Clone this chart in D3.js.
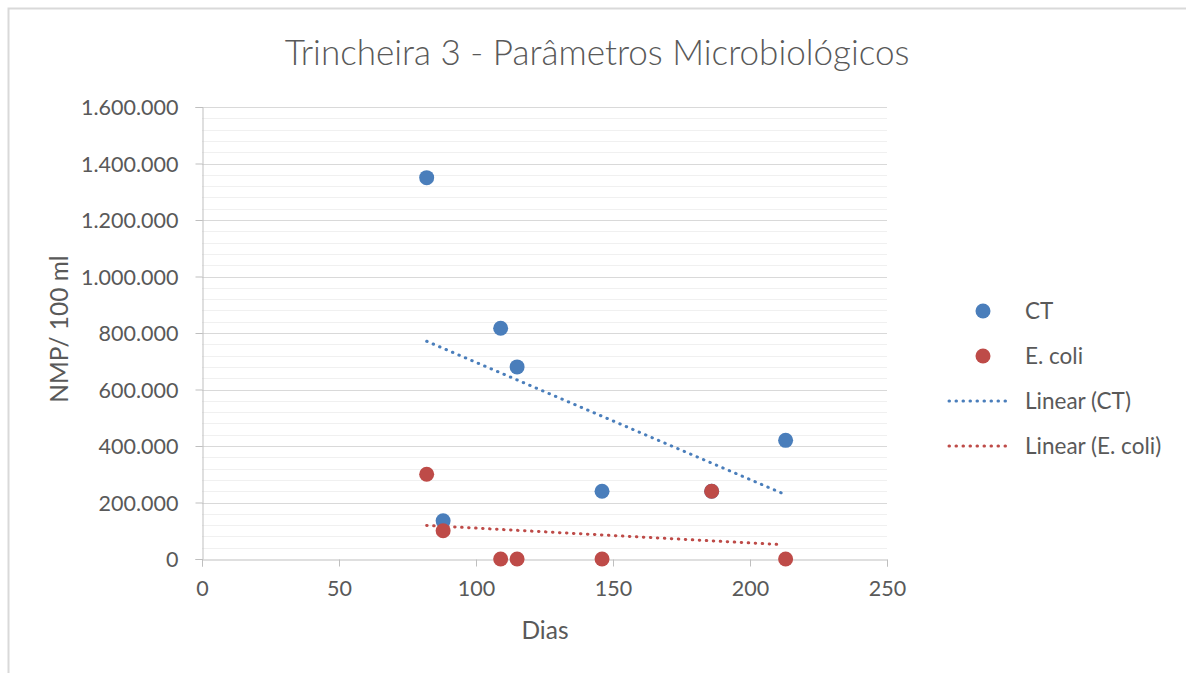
<!DOCTYPE html>
<html>
<head>
<meta charset="utf-8">
<script src="https://cdn.jsdelivr.net/npm/d3@7"></script>
<style>
  html, body { margin: 0; padding: 0; background: #fff; }
  svg { display: block; }
  text { font-family: Lato, "Open Sans", sans-serif; fill: #595959; }
</style>
</head>
<body>
<svg id="chart" width="1186" height="673"></svg>
<script>
// ---- data ----
const days = [82, 88, 109, 115, 146, 186, 213];
const ctValues = [1350000, 135000, 817000, 680000, 240000, 240000, 420000];
const ecoliValues = [300000, 100000, 0, 0, 0, 240000, 0];
const xTicks = [0, 50, 100, 150, 200, 250];
const yTicks = [0, 200000, 400000, 600000, 800000, 1000000, 1200000, 1400000, 1600000];
const seriesNames = ["CT", "E. coli"];
const trendNames = ["Linear (CT)", "Linear (E. coli)"];
const titleText = "Trincheira 3 - Parâmetros Microbiológicos";
const xTitle = "Dias";
const yTitle = "NMP/ 100 ml";

const colors = { ct: "#4a7ebb", ecoli: "#be4b48" };

const svg = d3.select("#chart");
const W = 1186, H = 673;
const plot = { left: 202, right: 887, top: 107, bottom: 559 };

const x = d3.scaleLinear().domain([0, 250]).range([plot.left, plot.right]);
const y = d3.scaleLinear().domain([0, 1600000]).range([plot.bottom, plot.top]);

const locale = d3.formatLocale({ decimal: ",", thousands: ".", grouping: [3], currency: ["", ""] });
const fmt = locale.format(",d");

// frame
svg.append("rect").attr("x", 8.5).attr("y", 8.5).attr("width", W + 20).attr("height", H + 20)
  .attr("fill", "#fff").attr("stroke", "#d9d9d9").attr("stroke-width", 2);

// minor gridlines
const minor = d3.range(0, 1600001, 40000).filter(v => v % 200000 !== 0);
svg.append("g").selectAll("line").data(minor).join("line")
  .attr("x1", plot.left).attr("x2", plot.right)
  .attr("y1", d => Math.round(y(d)) + 0.5).attr("y2", d => Math.round(y(d)) + 0.5)
  .attr("stroke", "#f0f0f0").attr("stroke-width", 1);

// major gridlines
svg.append("g").selectAll("line").data(yTicks.filter(v => v > 0)).join("line")
  .attr("x1", plot.left).attr("x2", plot.right)
  .attr("y1", d => Math.round(y(d)) + 0.5).attr("y2", d => Math.round(y(d)) + 0.5)
  .attr("stroke", "#d9d9d9").attr("stroke-width", 1);

// y axis
const yAxis = d3.axisLeft(y).tickValues(yTicks).tickFormat(fmt).tickSize(7).tickPadding(17);
const gy = svg.append("g").attr("transform", `translate(${plot.left + 0.5},0)`).call(yAxis);
gy.select(".domain").attr("stroke", "#bfbfbf");
gy.selectAll(".tick line").attr("stroke", "#bfbfbf");
gy.selectAll(".tick text").style("font-size", "21.5px").attr("fill", "#595959").attr("dy", "0.36em");

// x axis
const xAxis = d3.axisBottom(x).tickValues(xTicks).tickSize(7).tickPadding(14);
const gx = svg.append("g").attr("transform", `translate(0,${plot.bottom + 0.5})`).call(xAxis);
gx.select(".domain").attr("stroke", "#bfbfbf");
gx.selectAll(".tick line").attr("stroke", "#bfbfbf");
gx.selectAll(".tick text").style("font-size", "21.5px").attr("fill", "#595959");

// trendlines (least squares)
function linreg(xs, ys) {
  const n = xs.length;
  const mx = d3.mean(xs), my = d3.mean(ys);
  let sxy = 0, sxx = 0;
  for (let i = 0; i < n; i++) { sxy += (xs[i] - mx) * (ys[i] - my); sxx += (xs[i] - mx) ** 2; }
  const b = sxy / sxx, a = my - b * mx;
  return v => a + b * v;
}
const x0 = d3.min(days), x1 = d3.max(days) - 1;
[[ctValues, colors.ct], [ecoliValues, colors.ecoli]].forEach(([vals, c]) => {
  const f = linreg(days, vals);
  svg.append("line")
    .attr("x1", x(x0)).attr("y1", y(f(x0)))
    .attr("x2", x(x1)).attr("y2", y(f(x1)))
    .attr("stroke", c).attr("stroke-width", 3)
    .attr("stroke-linecap", "round").attr("stroke-dasharray", "0.5 6.5");
});

// points
const ptsCT = days.map((d, i) => ({ x: d, y: ctValues[i] }));
const ptsEC = days.map((d, i) => ({ x: d, y: ecoliValues[i] }));
svg.append("g").selectAll("circle").data(ptsCT).join("circle")
  .attr("cx", d => x(d.x)).attr("cy", d => y(d.y)).attr("r", 7.5).attr("fill", colors.ct);
svg.append("g").selectAll("circle").data(ptsEC).join("circle")
  .attr("cx", d => x(d.x)).attr("cy", d => y(d.y)).attr("r", 7.5).attr("fill", colors.ecoli);

// title
const t = svg.append("text").attr("x", 597).attr("y", 65).attr("text-anchor", "middle")
  .style("font-size", "32px").style("font-weight", 300).text(titleText);
const tw = t.node().getComputedTextLength();
t.style("font-size", (32 * 625 / tw).toFixed(2) + "px");

// axis titles
svg.append("text").attr("x", 545).attr("y", 639).attr("text-anchor", "middle")
  .style("font-size", "24.5px").text(xTitle);
svg.append("text").attr("transform", "translate(68,329) rotate(-90)").attr("text-anchor", "middle")
  .style("font-size", "24.5px").text(yTitle);

// legend
const leg = svg.append("g");
const legY = [311, 356, 401, 446];
[colors.ct, colors.ecoli].forEach((c, i) => {
  leg.append("circle").attr("cx", 983).attr("cy", legY[i]).attr("r", 7.5).attr("fill", c);
  leg.append("text").attr("x", 1025).attr("y", legY[i]).attr("dy", "0.36em")
    .style("font-size", "22.5px").text(seriesNames[i]);
});
[colors.ct, colors.ecoli].forEach((c, i) => {
  leg.append("line").attr("x1", 949).attr("x2", 1012).attr("y1", legY[i + 2]).attr("y2", legY[i + 2])
    .attr("stroke", c).attr("stroke-width", 3)
    .attr("stroke-linecap", "round").attr("stroke-dasharray", "0.5 6.5");
  leg.append("text").attr("x", 1025).attr("y", legY[i + 2]).attr("dy", "0.36em")
    .style("font-size", "22.5px").text(trendNames[i]);
});
</script>
</body>
</html>
